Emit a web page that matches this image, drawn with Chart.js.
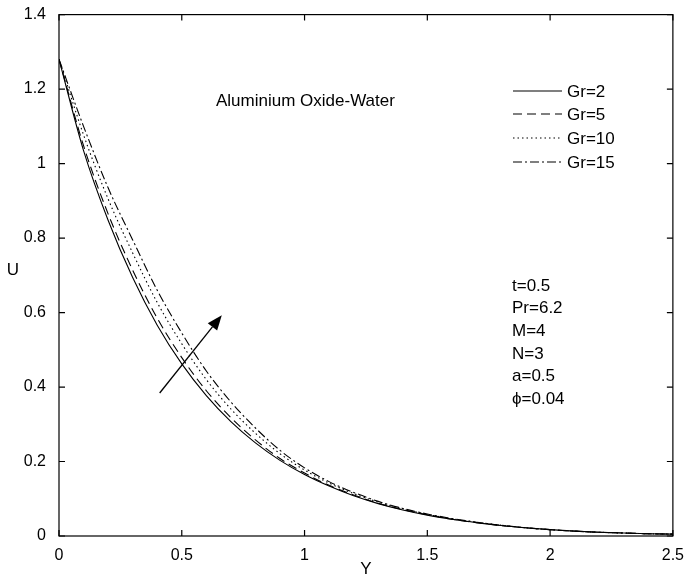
<!DOCTYPE html>
<html>
<head>
<meta charset="utf-8">
<script src="https://cdn.jsdelivr.net/npm/chart.js@4.4.1/dist/chart.umd.min.js"></script>
<style>
  body { margin: 0; background: #fff; }
  #wrap { width: 686px; height: 580px; }
</style>
</head>
<body>
<div id="wrap"><canvas id="chart" width="686" height="580"></canvas></div>
<script>
// values
const yPos = [0, 0.1, 0.2, 0.3, 0.4, 0.5, 0.6, 0.7, 0.8, 0.9, 1.0, 1.1, 1.2,
  1.3, 1.4, 1.5, 1.6, 1.7, 1.8, 1.9, 2.0, 2.1, 2.2, 2.3, 2.4, 2.5];

const uGr2 = [1.28, 1.035, 0.848, 0.694, 0.566, 0.462, 0.377, 0.307, 0.25, 0.203, 0.165, 0.134, 0.108,
  0.087, 0.070, 0.056, 0.045, 0.036, 0.028, 0.022, 0.017, 0.013, 0.010, 0.008, 0.006, 0.005];
const uGr5 = [1.28, 1.048, 0.865, 0.714, 0.585, 0.479, 0.39, 0.318, 0.258, 0.208, 0.169, 0.136, 0.11,
  0.088, 0.071, 0.057, 0.045, 0.036, 0.028, 0.022, 0.017, 0.013, 0.010, 0.008, 0.006, 0.005];
const uGr10 = [1.28, 1.077, 0.905, 0.76, 0.627, 0.516, 0.42, 0.341, 0.276, 0.221, 0.177, 0.142, 0.114,
  0.091, 0.073, 0.058, 0.046, 0.037, 0.029, 0.022, 0.017, 0.013, 0.010, 0.008, 0.006, 0.005];
const uGr15 = [1.28, 1.10, 0.935, 0.795, 0.66, 0.545, 0.443, 0.36, 0.29, 0.23, 0.183, 0.146, 0.117,
  0.093, 0.074, 0.059, 0.047, 0.037, 0.029, 0.022, 0.017, 0.013, 0.010, 0.008, 0.006, 0.005];

const seriesLabels = ["Gr=2", "Gr=5", "Gr=10", "Gr=15"];
const xTicks = [0, 0.5, 1, 1.5, 2, 2.5];
const yTicks = [0, 0.2, 0.4, 0.6, 0.8, 1, 1.2, 1.4];

const titleText = "Aluminium Oxide-Water";
const paramLines = ["t=0.5", "Pr=6.2", "M=4", "N=3", "a=0.5", "\u03D5=0.04"];
const arrowFrom = [0.41, 0.384];
const arrowTo = [0.663, 0.593];

const FONT = "'Liberation Sans', Arial, sans-serif";
const dashes = [[], [9, 5], [1.5, 3], [9, 3, 2, 3]];

function pts(vals) {
  return vals.map((v, i) => ({ x: yPos[i], y: v }));
}

const datasets = [uGr2, uGr5, uGr10, uGr15].map((vals, i) => ({
  label: seriesLabels[i],
  data: pts(vals),
  borderColor: "#000",
  borderWidth: 1.1,
  borderDash: dashes[i],
  pointRadius: 0,
  fill: false,
  cubicInterpolationMode: "monotone"
}));

// frame, inward ticks, legend, text and arrow
const figurePlugin = {
  id: "figure",
  afterDatasetsDraw(chart) {
    const ctx = chart.ctx;
    const a = chart.chartArea;
    const xs = chart.scales.x;
    const ys = chart.scales.y;
    ctx.save();
    ctx.strokeStyle = "#000";
    ctx.lineWidth = 1.2;
    ctx.setLineDash([]);
    ctx.strokeRect(a.left, a.top, a.right - a.left, a.bottom - a.top);

    const tl = 6;
    ctx.beginPath();
    xTicks.forEach(v => {
      const px = xs.getPixelForValue(v);
      ctx.moveTo(px, a.bottom); ctx.lineTo(px, a.bottom - tl);
      ctx.moveTo(px, a.top); ctx.lineTo(px, a.top + tl);
    });
    yTicks.forEach(v => {
      const py = ys.getPixelForValue(v);
      ctx.moveTo(a.left, py); ctx.lineTo(a.left + tl, py);
      ctx.moveTo(a.right, py); ctx.lineTo(a.right - tl, py);
    });
    ctx.stroke();

    // legend
    ctx.fillStyle = "#000";
    ctx.font = "17px " + FONT;
    ctx.textBaseline = "middle";
    ctx.textAlign = "left";
    const rows = [91, 114, 138, 162];
    datasets.forEach((ds, i) => {
      ctx.beginPath();
      ctx.lineWidth = 1.1;
      ctx.setLineDash(ds.borderDash);
      ctx.moveTo(513, rows[i]);
      ctx.lineTo(562, rows[i]);
      ctx.stroke();
      ctx.setLineDash([]);
      ctx.fillText(ds.label, 567, rows[i] + 1);
    });

    ctx.fillText(titleText, 216, 101);
    paramLines.forEach((t, i) => {
      ctx.fillText(t, 512, 286 + i * 22.7);
    });

    // y label
    ctx.textAlign = "center";
    ctx.fillText("U", 13, 270);

    // arrow
    const x0 = xs.getPixelForValue(arrowFrom[0]);
    const y0 = ys.getPixelForValue(arrowFrom[1]);
    const x1 = xs.getPixelForValue(arrowTo[0]);
    const y1 = ys.getPixelForValue(arrowTo[1]);
    const ang = Math.atan2(y1 - y0, x1 - x0);
    const hl = 15, hw = 6;
    const bx = x1 - hl * Math.cos(ang);
    const by = y1 - hl * Math.sin(ang);
    ctx.lineWidth = 1.3;
    ctx.beginPath();
    ctx.moveTo(x0, y0);
    ctx.lineTo(bx, by);
    ctx.stroke();
    ctx.beginPath();
    ctx.moveTo(x1, y1);
    ctx.lineTo(bx + hw * Math.sin(ang), by - hw * Math.cos(ang));
    ctx.lineTo(bx - hw * Math.sin(ang), by + hw * Math.cos(ang));
    ctx.closePath();
    ctx.fill();
    ctx.restore();
  }
};

new Chart(document.getElementById("chart").getContext("2d"), {
  type: "line",
  data: { datasets },
  plugins: [figurePlugin],
  options: {
    responsive: false,
    animation: false,
    layout: { padding: { top: 13, right: 10, left: 0, bottom: 0 } },
    plugins: { legend: { display: false }, tooltip: { enabled: false } },
    scales: {
      x: {
        type: "linear",
        min: 0, max: 2.5,
        afterBuildTicks: s => { s.ticks = xTicks.map(v => ({ value: v })); },
        afterFit: s => { s.height = 44; },
        grid: { display: false },
        border: { display: false },
        ticks: { color: "#000", font: { size: 16, family: FONT }, padding: 2, maxRotation: 0,
          callback: v => String(v) },
        title: { display: true, text: "Y", color: "#000", font: { size: 17, family: FONT }, padding: { top: 0, bottom: 0 } }
      },
      y: {
        min: 0, max: 1.4,
        afterBuildTicks: s => { s.ticks = yTicks.map(v => ({ value: v })); },
        afterFit: s => { s.width = 59; },
        grid: { display: false },
        border: { display: false },
        ticks: { color: "#000", font: { size: 16, family: FONT }, padding: 5,
          callback: v => String(v) }
      }
    }
  }
});
</script>
</body>
</html>
